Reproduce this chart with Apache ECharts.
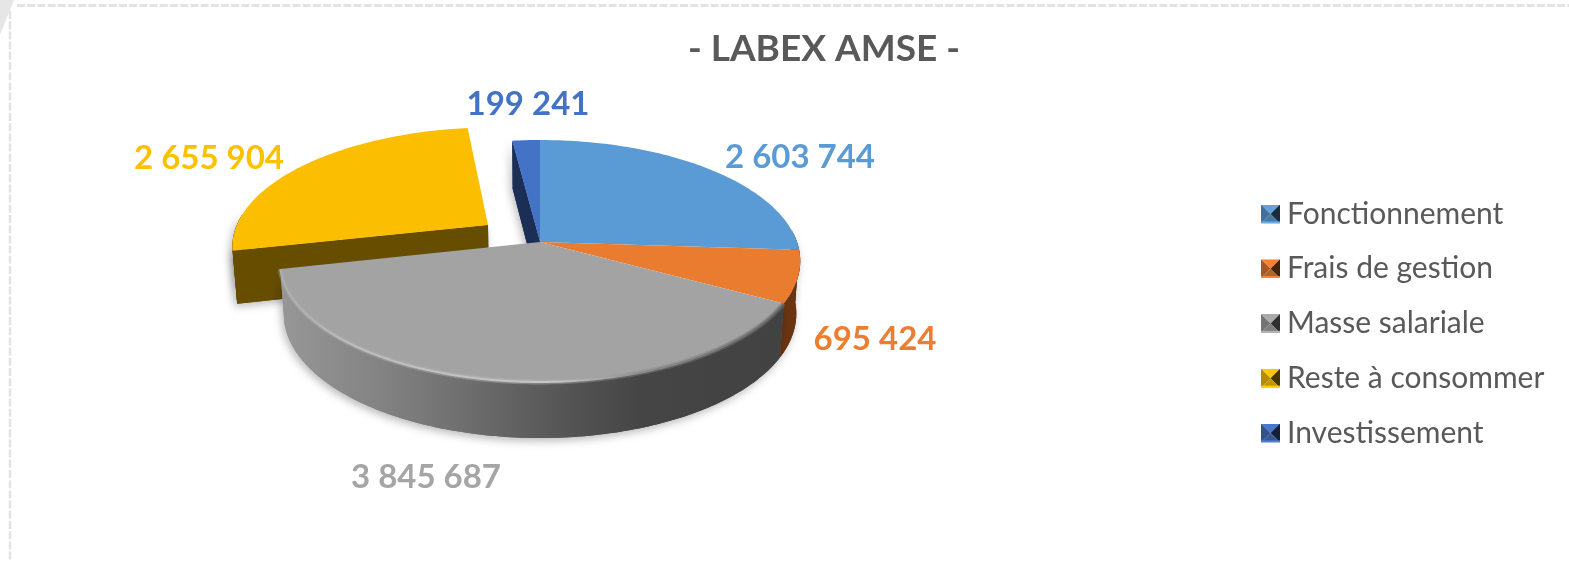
<!DOCTYPE html>
<html><head><meta charset="utf-8">
<style>html,body{margin:0;padding:0;background:#fff}#c{width:1569px;height:561px}</style>
<script src="https://cdn.jsdelivr.net/npm/echarts@6/dist/echarts.min.js"></script>
</head><body><div id="c"></div>
<script>
const categories = ['Fonctionnement','Frais de gestion','Masse salariale','Reste à consommer','Investissement'];
const values = [2603744,695424,3845687,2655904,199241];
const valueLabels = ['2 603 744','695 424','3 845 687','2 655 904','199 241'];
const topColors = ['#5B9BD5','#EA7C30','#A3A3A3','#FBBE00','#4472C4'];
const labelColors = ['#5B9BD5','#ED7D31','#A5A5A5','#FFC000','#4472C4'];
const wallColors = ['#2F5E8C','#6A3410','#555555','#664D00','#1A2E56'];

// view / projection settings
const view = {cx:540, cy:242, rx:257, ry:118, p:0.157, depth:52, depthV:4, step:1};
const explodeOffset = {3:[-0.207,-0.147]};
const labelPos = [[800,157],[875,339.5],[426,477],[209,158],[528,104.5]];
const drawOrder = [3,4,0,1,2];

const total = values.reduce((a,b)=>a+b,0);
const starts = []; let acc = 0;
values.forEach(v=>{starts.push(acc); acc += v;});

function project(theta, r, off, lower){
  const u0 = Math.sin(theta)*r, v0 = -Math.cos(theta)*r;
  const u = u0+off[0], v = v0+off[1], w = 1 - view.p*v;
  const d = lower ? view.depth + view.depthV*v0 : 0;
  const s = lower ? 0.985 : 1;
  return [view.cx + s*view.rx*u/w, view.cy + view.ry*v/w + d];
}
function arc(a0,a1,off,lower){
  const pts=[], n=Math.max(2,Math.ceil((a1-a0)/(view.step*Math.PI/180)));
  for(let i=0;i<=n;i++) pts.push(project(a0+(a1-a0)*i/n,1,off,lower));
  return pts;
}
const grad = stops => new echarts.graphic.LinearGradient(0,0,1,0,stops);
const shadow = {shadowColor:'rgba(0,0,0,0.28)',shadowBlur:9,shadowOffsetX:-2,shadowOffsetY:3};

function renderWedge(idx){
  return function(params, api){
    const value = api.value(0);
    const a0 = starts[idx]/total*2*Math.PI, a1 = (starts[idx]+value)/total*2*Math.PI;
    const off = explodeOffset[idx] || [0,0];
    const topArc = arc(a0,a1,off,false);
    const apex = project(0,0,off,false), apexLow = project(0,0,off,true);
    const kids = [], walls = [];
    let wallFill = wallColors[idx];
    if(idx===2) wallFill = grad([{offset:0,color:'#979797'},{offset:.25,color:'#7D7D7D'},{offset:.55,color:'#575757'},{offset:.72,color:'#454545'},{offset:1,color:'#424242'}]);
    // radial wall, only where it faces the viewer
    if(Math.sin(a0)<0){
      walls.push({points:[apex,topArc[0],project(a0,1,off,true),apexLow],fill:wallColors[idx]});
    }
    // outer wall, only its front-facing part
    const va0 = Math.max(a0,Math.PI*0.47), va1 = Math.min(a1,Math.PI*1.53);
    if(va1>va0){
      walls.push({points:arc(va0,va1,off,false).concat(arc(va0,va1,off,true).reverse()),fill:wallFill});
    }
    walls.forEach(w=>kids.push({type:'polygon',shape:{points:w.points},style:{fill:w.fill,...shadow}}));
    walls.forEach(w=>kids.push({type:'polygon',shape:{points:w.points},style:{fill:w.fill}}));
    // top face
    kids.push({type:'polygon',shape:{points:[apex].concat(topArc)},style:{fill:topColors[idx]}});
    if(idx===2){
      kids.push({type:'polyline',shape:{points:topArc},style:{fill:null,lineWidth:5,opacity:.4,stroke:grad([{offset:0,color:'#a8a8a8'},{offset:.1,color:'#b0b0b0'},{offset:.5,color:'#bcbcbc'},{offset:.72,color:'#8a8a8a'},{offset:1,color:'#6a6a6a'}])}});
      kids.push({type:'polyline',shape:{points:topArc},style:{fill:null,lineWidth:2,stroke:grad([{offset:0,color:'#aeaeae'},{offset:.15,color:'#bdbdbd'},{offset:.55,color:'#c6c6c6'},{offset:.72,color:'#8a8a8a'},{offset:1,color:'#6a6a6a'}])}});
    }
    const lp = labelPos[idx];
    kids.push({type:'text',style:{x:lp[0],y:lp[1],text:valueLabels[idx],fill:labelColors[idx],font:'bold 33px Lato',align:'center',verticalAlign:'middle'}});
    return {type:'group',children:kids};
  };
}
function hex(c,f){
  const n=parseInt(c.slice(1),16), ch=s=>Math.max(0,Math.min(255,Math.round(((n>>s)&255)*f)));
  return 'rgb('+ch(16)+','+ch(8)+','+ch(0)+')';
}
function bevelIcon(c){
  const svg="<svg xmlns='http://www.w3.org/2000/svg' width='18' height='18'>"+
   "<polygon points='0,0 18,0 9,9' fill='"+hex(c,1.05)+"'/>"+
   "<polygon points='0,0 9,9 0,18' fill='"+hex(c,.72)+"'/>"+
   "<polygon points='18,0 18,18 9,9' fill='"+hex(c,.28)+"'/>"+
   "<polygon points='0,18 18,18 9,9' fill='"+hex(c,.78)+"'/>"+
   "<rect x='0' y='16' width='18' height='2' fill='"+hex(c,1.1)+"'/></svg>";
  return 'image://data:image/svg+xml;charset=utf-8,'+encodeURIComponent(svg);
}
const chart = echarts.init(document.getElementById('c'),null,{renderer:'canvas'});
chart.setOption({
  animation:false,
  backgroundColor:'#fff',
  title:{text:'- LABEX AMSE -',left:819,top:26,textAlign:'center',textStyle:{fontFamily:'Lato',fontWeight:'bold',fontSize:37,color:'#595959'}},
  legend:{orient:'vertical',left:1256,top:194,selectedMode:false,itemWidth:19,itemHeight:19,itemGap:24.75,
    textStyle:{fontFamily:'Lato',fontSize:30,color:'#595959',padding:[0,0,0,2]},
    data:categories.map((n,i)=>({name:n,icon:bevelIcon(topColors[i])}))},
  graphic:[
    {type:'polygon',silent:true,shape:{points:[[0,0],[14,0],[0,35]]},style:{fill:'#E6E6E6'}},
    {type:'line',silent:true,shape:{x1:17,y1:5.5,x2:1569,y2:5.5},style:{stroke:'#E3E3E3',lineWidth:3,lineDash:[8,2.2]}},
    {type:'line',silent:true,shape:{x1:10,y1:11,x2:10,y2:561},style:{stroke:'#E3E3E3',lineWidth:2.5,lineDash:[8,2.2]}}
  ],
  series:drawOrder.map(i=>({type:'custom',name:categories[i],coordinateSystem:'none',silent:true,data:[[values[i]]],renderItem:renderWedge(i)}))
});
</script></body></html>
